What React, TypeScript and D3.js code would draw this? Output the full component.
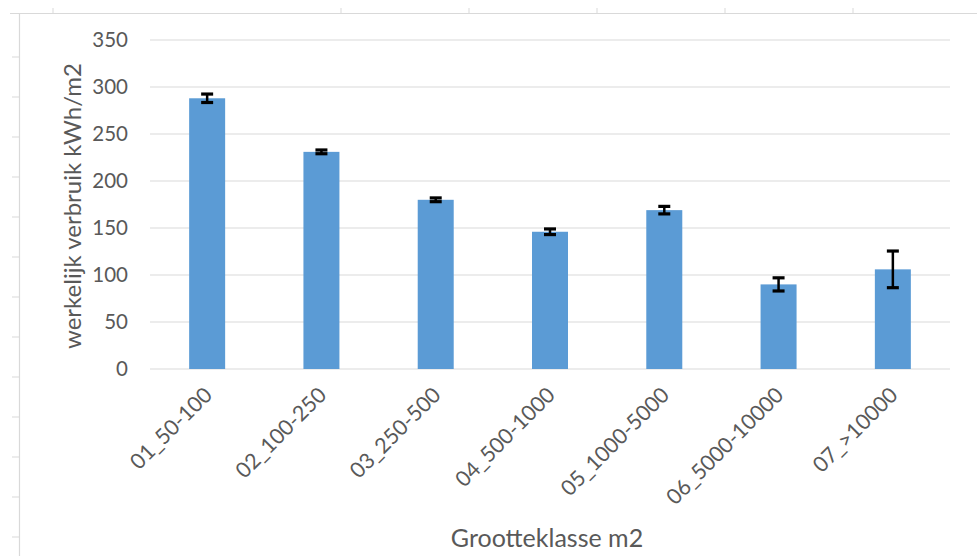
import React from "react";
import * as d3 from "d3";

const categories = ["01_50-100", "02_100-250", "03_250-500", "04_500-1000", "05_1000-5000", "06_5000-10000", "07_>10000"];
const values = [288, 231, 180, 146, 169, 90, 106];
const errors = [4.5, 2, 2, 3, 4, 7, 19.5];
const yTicks = [0, 50, 100, 150, 200, 250, 300, 350];
const rulerTopX = [53, 341, 469, 597, 725, 853];
const rulerLeftY = [57, 97, 137, 177, 217, 257, 297, 337, 377, 417, 457, 497, 537];

const W = 977;
const H = 556;
const plot = { left: 150, right: 950, top: 40, bottom: 369 };
const FONT = "Lato, 'Open Sans', sans-serif";
const TEXT = "#595959";

export default function App() {
  const x = d3
    .scaleBand<string>()
    .domain(categories)
    .range([plot.left, plot.right])
    .paddingInner(0.685)
    .paddingOuter(0.3425);
  const y = d3.scaleLinear().domain([0, 350]).range([plot.bottom, plot.top]);
  const bw = x.bandwidth();

  return (
    <svg
      width={W}
      height={H}
      style={{ position: "fixed", left: 0, top: 0, background: "#fff" }}
      fontFamily={FONT}
    >
      <rect x={0} y={0} width={W} height={H} fill="#fff" />
      {/* frame / ruler artifacts */}
      <line x1={10} x2={W} y1={13.5} y2={13.5} stroke="#d9d9d9" strokeWidth={1.2} />
      <line x1={19.5} x2={19.5} y1={13} y2={H} stroke="#d9d9d9" strokeWidth={1.2} />
      {rulerTopX.map((rx) => (
        <line key={"tx" + rx} x1={rx} x2={rx} y1={8} y2={14} stroke="#d9d9d9" strokeWidth={1} />
      ))}
      {rulerLeftY.map((ry) => (
        <line key={"ly" + ry} x1={12} x2={20} y1={ry} y2={ry} stroke="#d9d9d9" strokeWidth={1} />
      ))}

      {/* gridlines */}
      {yTicks.map((t) => (
        <g key={"g" + t}>
          <line
            x1={plot.left}
            x2={plot.right}
            y1={y(t)}
            y2={y(t)}
            stroke="#d9d9d9"
            strokeWidth={1.2}
          />
          <text
            x={128}
            y={y(t)}
            dy="0.36em"
            textAnchor="end"
            fontSize={20.5}
            fill={TEXT}
          >
            {t}
          </text>
        </g>
      ))}

      {/* bars */}
      {categories.map((c, i) => (
        <rect
          key={"b" + c}
          x={x(c)!}
          y={y(values[i])}
          width={bw}
          height={y(0) - y(values[i])}
          fill="#5b9bd5"
        />
      ))}

      {/* error bars */}
      {categories.map((c, i) => {
        const cx = x(c)! + bw / 2;
        const y1 = y(values[i] + errors[i]);
        const y2 = y(values[i] - errors[i]);
        return (
          <g key={"e" + c} stroke="#000" strokeWidth={2.5}>
            <line x1={cx} x2={cx} y1={y1} y2={y2} />
            <line x1={cx - 6} x2={cx + 6} y1={y1} y2={y1} strokeWidth={3.2} />
            <line x1={cx - 6} x2={cx + 6} y1={y2} y2={y2} strokeWidth={3.2} />
          </g>
        );
      })}

      {/* x labels */}
      {categories.map((c) => {
        const cx = x(c)! + bw / 2 + 1;
        const ty = plot.bottom + 22;
        return (
          <text
            key={"xl" + c}
            transform={`translate(${cx},${ty}) rotate(-45)`}
            textAnchor="end"
            dy="0.35em"
            fontSize={21.5}
            fill={TEXT}
          >
            {c}
          </text>
        );
      })}

      {/* axis titles */}
      <text
        transform={`translate(73,${206}) rotate(-90)`}
        textAnchor="middle"
        dy="0.35em"
        fontSize={24}
        fill={TEXT}
      >
        werkelijk verbruik kWh/m2
      </text>
      <text x={547} y={538} dy="0.35em" textAnchor="middle" fontSize={25} fill={TEXT}>
        Grootteklasse m2
      </text>
    </svg>
  );
}
